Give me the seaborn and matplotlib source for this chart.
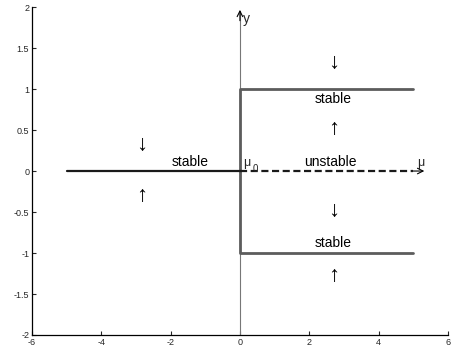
import matplotlib
matplotlib.use("Agg")
import matplotlib.pyplot as plt
import seaborn as sns
import pandas as pd

# Pitchfork bifurcation: equilibrium branches in the (mu, y) plane
trivial_stable_mu = [-5, 0]
trivial_stable_y = [0, 0]
trivial_unstable_mu = [0, 5]
trivial_unstable_y = [0, 0]
upper_branch_mu = [0, 0, 5]
upper_branch_y = [0, 1, 1]
lower_branch_mu = [0, 0, 5]
lower_branch_y = [0, -1, -1]

x_ticks = [-6, -4, -2, 0, 2, 4, 6]
y_ticks = [-2, -1.5, -1, -0.5, 0, 0.5, 1, 1.5, 2]

sns.set_style("ticks")
plt.rcParams["font.family"] = ["Liberation Sans", "DejaVu Sans"]

fig = plt.figure(figsize=(4.51, 3.53), dpi=100)
ax = fig.add_axes([0.071, 0.051, 0.922, 0.929])

gray = "#5c5c5c"

# coordinate axes through the origin
ax.plot([0, 0], [-2, 1.95], color="#777777", lw=0.8, zorder=1)
ax.annotate("", xy=(0, 2.0), xytext=(0, 1.8),
            arrowprops=dict(arrowstyle="->", color="black", lw=0.8))
ax.annotate("", xy=(5.4, 0), xytext=(4.9, 0),
            arrowprops=dict(arrowstyle="->", color="black", lw=0.8))

def segment(mu, y, **kw):
    df = pd.DataFrame({"mu": mu, "y": y})
    sns.lineplot(data=df, x="mu", y="y", sort=False, estimator=None,
                 ax=ax, legend=False, **kw)

segment(upper_branch_mu, upper_branch_y, color=gray, lw=2.0, zorder=2)
segment(lower_branch_mu, lower_branch_y, color=gray, lw=2.0, zorder=2)
segment(trivial_stable_mu, trivial_stable_y, color="#1a1a1a", lw=1.6, zorder=3)
segment(trivial_unstable_mu, trivial_unstable_y, color="#1a1a1a", lw=1.6,
        linestyle=(0, (3.2, 1.6)), zorder=3)

txt = dict(fontsize=10, color="black")
ax.text(-1.45, 0.02, "stable", ha="center", va="bottom", **txt)
ax.text(2.6, 0.02, "unstable", ha="center", va="bottom", **txt)
ax.text(2.7, 0.96, "stable", ha="center", va="top", **txt)
ax.text(2.7, -0.96, "stable", ha="center", va="bottom", **txt)
ax.text(0.1, 0.02, "\u03bc", ha="left", va="bottom", fontsize=9)
ax.text(0.38, -0.04, "0", ha="left", va="bottom", fontsize=7)
ax.text(5.1, 0.02, "\u03bc", ha="left", va="bottom", fontsize=9)
ax.text(0.08, 1.86, "y", ha="left", va="center", fontsize=10)

arr = dict(fontsize=16, ha="center", va="center", color="black")
ax.text(-2.85, 0.32, "\u2193", **arr)
ax.text(-2.85, -0.30, "\u2191", **arr)
ax.text(2.7, 1.32, "\u2193", **arr)
ax.text(2.7, 0.52, "\u2191", **arr)
ax.text(2.7, -0.48, "\u2193", **arr)
ax.text(2.7, -1.28, "\u2191", **arr)

ax.set_xlim(-6, 6)
ax.set_ylim(-2, 2)
ax.set_xticks(x_ticks)
ax.set_yticks(y_ticks)
ax.set_xticklabels([f"{t:g}" for t in x_ticks])
ax.set_yticklabels([f"{t:g}" for t in y_ticks])
ax.set_xlabel("")
ax.set_ylabel("")
ax.tick_params(direction="in", length=3, width=0.8, labelsize=6.5, pad=2)
sns.despine(ax=ax)
for s in ("left", "bottom"):
    ax.spines[s].set_linewidth(0.9)
    ax.spines[s].set_color("black")

fig.savefig("out.png", dpi=100)
